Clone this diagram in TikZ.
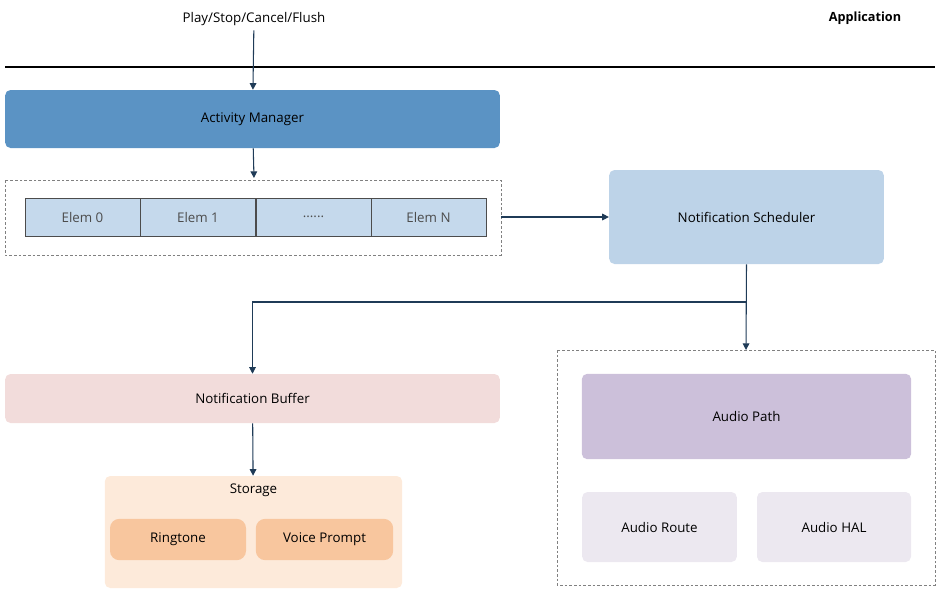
\documentclass[tikz,border=0pt]{standalone}
\usepackage{fontspec}
\setmainfont{Open Sans}
\usetikzlibrary{arrows.meta}
\definecolor{amblue}{HTML}{5B93C4}
\definecolor{elemblue}{HTML}{C5D9EC}
\definecolor{schblue}{HTML}{BDD3E8}
\definecolor{bufpink}{HTML}{F2DCDB}
\definecolor{storbg}{HTML}{FDEADA}
\definecolor{ringor}{HTML}{F8C69E}
\definecolor{pathpur}{HTML}{CCC0DA}
\definecolor{routepur}{HTML}{ECE8F0}
\definecolor{arr}{HTML}{1F3B57}
\tikzset{
  blk/.style={draw=none, rounded corners=4pt, inner sep=0pt, font=\fontsize{10}{12}\selectfont},
  elem/.style={draw=black!70, fill=elemblue, minimum width=86.25pt, minimum height=28.5pt, inner sep=0pt, text=black!70, font=\fontsize{10}{12}\selectfont},
  grp/.style={draw=black!50, dashed, dash pattern=on 2pt off 1.5pt, line width=0.4pt},
  flow/.style={-{Triangle[length=5pt,width=5pt]}, draw=arr, line width=0.8pt}
}
\begin{document}
\begin{tikzpicture}[x=0.75pt,y=-0.75pt]
\useasboundingbox (0,0) rectangle (939,601);
\node[font=\fontsize{10}{12}\selectfont] (cmd) at (254,19) {Play/Stop/Cancel/Flush};
\node[font=\bfseries\fontsize{9.5}{12}\selectfont] (app) at (865,18) {Application};
\draw[line width=0.8pt] (5,67) -- (935,67);

\node[blk, fill=amblue, minimum width=371pt, minimum height=43.5pt] (am) at (252.5,119) {Activity Manager};
\draw[grp] (5,180) rectangle (501,255);
\node[elem] (e0) at (82.5,217) {Elem 0};
\node[elem] (e1) at (198,217) {Elem 1};
\node[elem] (e2) at (313.5,217) {......};
\node[elem] (eN) at (428.5,217) {Elem N};

\node[blk, fill=schblue, minimum width=206pt, minimum height=70.5pt] (sch) at (746.5,217) {Notification Scheduler};
\node[blk, fill=bufpink, minimum width=371pt, minimum height=36.75pt] (buf) at (252.5,398.5) {Notification Buffer};

\node[blk, fill=storbg, minimum width=223pt, minimum height=84pt] (stor) at (253.5,532) {};
\node[font=\fontsize{10}{12}\selectfont] (storlbl) at (253.5,490) {Storage};
\node[blk, rounded corners=7pt, fill=ringor, minimum width=102pt, minimum height=31pt] (ring) at (178,539.5) {Ringtone};
\node[blk, rounded corners=7pt, fill=ringor, minimum width=103pt, minimum height=31pt] (vp) at (324.5,539.5) {Voice Prompt};

\draw[grp] (557,350) rectangle (935,585);
\coordinate (grpin) at (746,350);
\node[blk, fill=pathpur, minimum width=247pt, minimum height=64pt] (path) at (746.5,416.5) {Audio Path};
\node[blk, fill=routepur, minimum width=116pt, minimum height=52.5pt] (route) at (659.5,527) {Audio Route};
\node[blk, fill=routepur, minimum width=115.5pt, minimum height=52.5pt] (hal) at (834,527) {Audio HAL};

\draw[flow] (cmd) -- (am);
\draw[flow] (am) -- (254,178);
\draw[flow] (501,217) -- (sch);
\draw[flow] (sch.south) -- (grpin);
\draw[flow] (746,302) -| (buf.north);
\draw[flow] (buf) -- (stor);
\end{tikzpicture}
\end{document}
